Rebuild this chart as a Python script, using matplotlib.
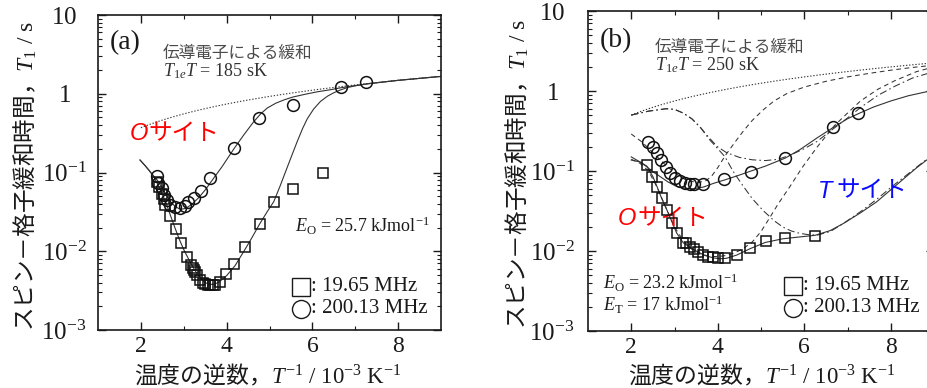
import numpy as np
import matplotlib
matplotlib.use("Agg")
import matplotlib.pyplot as plt
from matplotlib.ticker import FixedLocator, LogLocator, NullFormatter, FixedFormatter

plt.rcParams['font.family'] = ['Liberation Serif', 'Noto Sans CJK JP', 'DejaVu Sans']
plt.rcParams['mathtext.fontset'] = 'custom'
plt.rcParams['mathtext.rm'] = 'Liberation Serif'
plt.rcParams['mathtext.it'] = 'Liberation Serif:italic'
plt.rcParams['mathtext.bf'] = 'Liberation Serif:bold'
plt.rcParams['axes.unicode_minus'] = True

# ---------------- panel (a) ----------------
T1eT_a = 185.0          # sK, conduction-electron relaxation
E_O_a = 25.7            # kJ/mol

sq_a_x = [2.37, 2.42, 2.49, 2.53, 2.57, 2.68, 2.82, 2.94, 3.07, 3.18, 3.21, 3.23,
          3.27, 3.31, 3.39, 3.45, 3.50, 3.56, 3.62, 3.68, 3.74, 3.85, 3.99, 4.17,
          4.44, 4.77, 5.10, 5.55, 6.24]
sq_a_y = [0.076, 0.065, 0.054, 0.046, 0.039, 0.0277, 0.019, 0.0126, 0.0085, 0.0066,
          0.0061, 0.0058, 0.0054, 0.0050, 0.0043, 0.0040, 0.0038, 0.0037, 0.0037,
          0.0037, 0.0037, 0.0041, 0.0052, 0.0069, 0.0114, 0.0222, 0.0427, 0.061, 0.099]

ci_a_x = [2.37, 2.41, 2.49, 2.53, 2.61, 2.68, 2.80, 2.92, 3.04, 3.11, 3.23, 3.40,
          3.62, 4.17, 4.76, 5.55, 6.66, 7.26]
ci_a_y = [0.089, 0.073, 0.063, 0.052, 0.045, 0.039, 0.036, 0.035, 0.038, 0.042,
          0.047, 0.059, 0.086, 0.206, 0.49, 0.73, 1.21, 1.42]

fit_ci_a_x = [1.98, 2.1, 2.2, 2.3, 2.4, 2.5, 2.6, 2.7, 2.8, 2.92, 3.05, 3.2, 3.35,
              3.5, 3.7, 3.9, 4.17, 4.4, 4.63, 4.8, 4.95, 5.15, 5.35, 5.55, 5.85,
              6.12, 6.4, 6.66, 7.0, 7.3, 8.0, 9.0]
fit_ci_a_y = [0.144, 0.122, 0.105, 0.09, 0.078, 0.063, 0.051, 0.042, 0.037, 0.034,
              0.035, 0.040, 0.048, 0.060, 0.085, 0.12, 0.20, 0.30, 0.44, 0.56, 0.66,
              0.76, 0.84, 0.91, 0.99, 1.06, 1.12, 1.19, 1.27, 1.34, 1.48, 1.66]

fit_sq_a_x = [1.98, 2.1, 2.2, 2.3, 2.4, 2.5, 2.6, 2.7, 2.8, 2.9, 3.0, 3.1, 3.2, 3.3,
              3.4, 3.5, 3.6, 3.7, 3.8, 3.9, 4.0, 4.2, 4.44, 4.6, 4.77, 4.95, 5.1,
              5.25, 5.41, 5.53, 5.65, 5.77, 5.88, 6.03, 6.19, 6.35, 6.5, 6.66, 6.82,
              7.0, 7.3, 8.0, 9.0]
fit_sq_a_y = [0.144, 0.122, 0.105, 0.088, 0.07, 0.053, 0.039, 0.0275, 0.0195, 0.014,
              0.0105, 0.0082, 0.0065, 0.0053, 0.0045, 0.0040, 0.0038, 0.0038, 0.0040,
              0.0044, 0.0049, 0.0066, 0.0108, 0.0152, 0.0222, 0.032, 0.0427, 0.068,
              0.115, 0.17, 0.25, 0.36, 0.48, 0.64, 0.80, 0.93, 1.03, 1.12, 1.2, 1.26,
              1.34, 1.48, 1.66]

# ---------------- panel (b) ----------------
T1eT_b = 250.0
E_O_b = 23.2
E_T_b = 17.0

sq_b_x = [2.36, 2.49, 2.59, 2.71, 2.82, 2.94, 3.05, 3.19, 3.27, 3.35, 3.44, 3.55,
          3.67, 3.78, 3.90, 4.01, 4.17, 4.44, 4.75, 5.12, 5.56, 6.25]
sq_b_y = [0.119, 0.083, 0.063, 0.046, 0.033, 0.0226, 0.0166, 0.0127, 0.0127, 0.0113,
          0.0105, 0.0098, 0.0089, 0.0085, 0.0083, 0.0081, 0.0081, 0.0089, 0.0108,
          0.0135, 0.0144, 0.0155]

ci_b_x = [2.39, 2.50, 2.59, 2.69, 2.80, 2.90, 3.02, 3.13, 3.25, 3.35, 3.44, 3.65,
          4.15, 4.77, 5.56, 6.67, 7.25]
ci_b_y = [0.233, 0.198, 0.166, 0.137, 0.111, 0.094, 0.081, 0.074, 0.070, 0.068,
          0.068, 0.068, 0.079, 0.098, 0.145, 0.358, 0.526]

fit_ci_b_x = [2.0, 2.2, 2.36, 2.5, 2.67, 2.85, 3.05, 3.25, 3.44, 3.67, 3.9, 4.15,
              4.45, 4.77, 5.1, 5.56, 5.9, 6.3, 6.67, 7.0, 7.25, 7.6, 8.0, 8.4, 8.83, 9.0]
fit_ci_b_y = [0.15, 0.13, 0.113, 0.098, 0.085, 0.073, 0.064, 0.061, 0.060, 0.063,
              0.070, 0.077, 0.087, 0.100, 0.115, 0.145, 0.185, 0.26, 0.35, 0.45,
              0.52, 0.63, 0.75, 0.87, 0.98, 1.02]

fit_sq_b_x = [2.0, 2.2, 2.36, 2.5, 2.6, 2.7, 2.82, 2.95, 3.05, 3.2, 3.35, 3.5, 3.7,
              3.9, 4.05, 4.2, 4.44, 4.75, 5.1, 5.5, 5.9, 6.25, 6.6, 6.9, 7.3, 7.67,
              8.06, 8.3, 8.6, 8.83, 9.0]
fit_sq_b_y = [0.137, 0.13, 0.115, 0.085, 0.063, 0.046, 0.033, 0.0225, 0.0168,
              0.0127, 0.0112, 0.0100, 0.0088, 0.0082, 0.0080, 0.0081, 0.0089,
              0.0107, 0.0128, 0.0142, 0.015, 0.0157, 0.018, 0.022, 0.030, 0.041,
              0.062, 0.080, 0.11, 0.137, 0.155]

# site components (each with the conduction-electron term)
t_hi_x = [2.0, 2.4, 2.8, 3.0, 3.2, 3.4, 3.6, 3.8, 4.0, 4.2, 4.5, 4.8, 5.1, 5.4,
          5.7, 6.0, 6.3, 6.65, 7.0, 7.3, 7.7, 8.1, 8.5, 9.0]
t_hi_y = [0.50, 0.56, 0.60, 0.59, 0.53, 0.45, 0.35, 0.26, 0.20, 0.17, 0.148, 0.138,
          0.135, 0.14, 0.16, 0.19, 0.235, 0.33, 0.46, 0.62, 0.88, 1.15, 1.45, 1.75]

t_lo_x = [2.0, 2.4, 2.8, 3.0, 3.2, 3.4, 3.6, 3.8, 4.0, 4.17, 4.35, 4.56, 4.8, 5.05,
          5.3, 5.5, 5.7, 5.9, 6.1, 6.3, 6.6, 6.9, 7.3, 7.67, 8.06, 8.4, 8.83, 9.0]
t_lo_y = [0.50, 0.56, 0.60, 0.59, 0.53, 0.45, 0.35, 0.25, 0.19, 0.15, 0.10, 0.068,
          0.045, 0.032, 0.024, 0.020, 0.0178, 0.0166, 0.016, 0.0158, 0.0175, 0.022,
          0.031, 0.044, 0.066, 0.092, 0.14, 0.165]

o_hi_x = [2.0, 2.25, 2.5, 2.75, 3.0, 3.25, 3.5, 3.7, 3.85, 4.0, 4.17, 4.4, 4.6, 4.8,
          5.05, 5.3, 5.6, 6.0, 6.5, 7.0, 7.5, 8.0, 8.5, 9.0]
o_hi_y = [0.29, 0.23, 0.17, 0.125, 0.095, 0.078, 0.072, 0.074, 0.085, 0.11, 0.155,
          0.23, 0.32, 0.43, 0.58, 0.75, 0.93, 1.12, 1.32, 1.5, 1.66, 1.82, 1.97, 2.1]

o_lo_x = [2.0, 2.2, 2.4, 2.6, 2.8, 3.0, 3.2, 3.4, 3.6, 3.8, 4.0, 4.2, 4.4, 4.6, 4.8,
          5.0, 5.2, 5.4, 5.67, 5.95, 6.3, 6.7, 7.0, 7.3, 7.7, 8.1, 8.6, 9.0]
o_lo_y = [0.14, 0.125, 0.10, 0.062, 0.035, 0.020, 0.0135, 0.0105, 0.0092, 0.0086,
          0.0085, 0.0088, 0.0095, 0.0108, 0.013, 0.0175, 0.026, 0.039, 0.064, 0.11,
          0.2, 0.37, 0.53, 0.75, 1.05, 1.35, 1.75, 2.0]

x_major = [2, 4, 6, 8]
x_minor = [3, 5, 7]
y_major = [1e-3, 1e-2, 1e-1, 1, 10]
y_major_labels = [r'$10^{-3}$', r'$10^{-2}$', r'$10^{-1}$', r'$1$', r'$10$']

JP = ['Noto Sans CJK JP', 'DejaVu Sans']
INK = '#1a1a1a'
LINE = '#333333'

fig = plt.figure(figsize=(9.27, 3.88), dpi=100)
W, H = 927.0, 388.0


def make_axes(x0, x1, y0, y1, label_center_px):
    ax = fig.add_axes([x0 / W, 1 - y1 / H, (x1 - x0) / W, (y1 - y0) / H])
    ax.set_yscale('log')
    ax.set_xlim(1, 9)
    ax.set_ylim(1e-3, 10)
    ax.xaxis.set_major_locator(FixedLocator(x_major))
    ax.xaxis.set_minor_locator(FixedLocator(x_minor))
    ax.yaxis.set_major_locator(FixedLocator(y_major))
    ax.yaxis.set_major_formatter(FixedFormatter(y_major_labels))
    ax.yaxis.set_minor_locator(LogLocator(base=10, subs=np.arange(2, 10), numticks=20))
    ax.yaxis.set_minor_formatter(NullFormatter())
    ax.tick_params(which='major', direction='in', top=True, right=True,
                   length=5.5, width=1.0, color=INK, labelcolor=INK)
    ax.tick_params(which='minor', direction='in', top=True, right=True,
                   length=3.0, width=0.8, color=INK)
    ax.tick_params(axis='x', which='major', pad=4, labelsize=17)
    ax.tick_params(axis='y', which='major', pad=label_center_px / 1.389, labelsize=18)
    for lbl in ax.get_yticklabels():
        lbl.set_horizontalalignment('center')
    for s in ax.spines.values():
        s.set_linewidth(1.2)
        s.set_color(INK)
    return ax


def t1e_line(ax, t1et):
    xx = np.linspace(2.0, 9.0, 80)
    ax.plot(xx, t1et * xx * 1e-3, linestyle=(0, (1.2, 1.6)), color=LINE, lw=0.8)


def markers(ax, sx, sy, cx, cy):
    ax.plot(sx, sy, linestyle='none', marker='s', ms=7.5, mfc='none', mec='#111111',
            mew=1.1, zorder=5)
    ax.plot(cx, cy, linestyle='none', marker='o', ms=8.5, mfc='none', mec='#111111',
            mew=1.1, zorder=5)


def legend_block(ax, xm, xt, ys, yc):
    ax.plot([xm], [ys], transform=ax.transAxes, marker='s', ms=12.5, mfc='none',
            mec=INK, mew=1.0, clip_on=False)
    ax.plot([xm], [yc], transform=ax.transAxes, marker='o', ms=13, mfc='none',
            mec=INK, mew=1.0, clip_on=False)
    ax.text(xt, ys, ': 19.65 MHz', transform=ax.transAxes, fontsize=15,
            ha='left', va='center', color=INK)
    ax.text(xt, yc, ': 200.13 MHz', transform=ax.transAxes, fontsize=15,
            ha='left', va='center', color=INK)


def site_label(ax, x_letter, x_kana, y, letter, color):
    ax.text(x_letter, y, letter, transform=ax.transAxes, fontsize=17,
            family=['Liberation Sans'], style='italic', color=color,
            ha='left', va='center')
    ax.text(x_kana, y, 'サイト', transform=ax.transAxes, fontsize=17,
            family=JP, color=color, ha='left', va='center')


# ---------- (a) ----------
ax1 = make_axes(98, 441, 15, 330, 34)
t1e_line(ax1, T1eT_a)
ax1.plot(fit_ci_a_x, fit_ci_a_y, color=LINE, lw=0.8)
ax1.plot(fit_sq_a_x, fit_sq_a_y, color=LINE, lw=0.8)
markers(ax1, sq_a_x, sq_a_y, ci_a_x, ci_a_y)

ax1.text(0.035, 0.911, '(a)', transform=ax1.transAxes, fontsize=20, ha='left',
         va='center', color=INK)
ax1.text(0.19, 0.879, '伝導電子による緩和', transform=ax1.transAxes, fontsize=12,
         family=JP, color='#4a4a4a', ha='left', va='center')
ax1.text(0.19, 0.822, r'$T_{1e}T$ = %g sK' % T1eT_a, transform=ax1.transAxes,
         fontsize=13, color='#333333', ha='left', va='center')
site_label(ax1, 0.093, 0.146, 0.625, 'O', '#ff0000')
ax1.text(0.574, 0.33, r'$E_\mathrm{O}$ = %.1f kJmol$^{-1}$' % E_O_a,
         transform=ax1.transAxes, fontsize=13, color=INK, ha='left', va='center')
legend_block(ax1, 0.592, 0.622, 0.137, 0.067)

fig.text(25 / W, 1 - 176 / H, r'スピン－格子緩和時間，$T_1\ /\ \mathrm{s}$', rotation=90,
         ha='center', va='center', fontsize=17, family=JP, color=INK)
fig.text(268 / W, 1 - 375 / H, r'温度の逆数，$T^{-1}\ /\ \mathrm{10^{-3}\ K^{-1}}$',
         ha='center', va='center', fontsize=16.5, family=JP, color=INK)

# ---------- (b) ----------
ax2 = make_axes(588, 934, 11, 331, 36)
t1e_line(ax2, T1eT_b)
dashdot = (0, (7, 3, 1.5, 3))
dashed = (0, (4.5, 3.5))
ax2.plot(t_hi_x, t_hi_y, color=LINE, lw=0.75, linestyle=dashdot)
ax2.plot(t_lo_x, t_lo_y, color=LINE, lw=0.75, linestyle=dashdot)
ax2.plot(o_hi_x, o_hi_y, color=LINE, lw=0.75, linestyle=dashed)
ax2.plot(o_lo_x, o_lo_y, color=LINE, lw=0.75, linestyle=dashed)
ax2.plot(fit_ci_b_x, fit_ci_b_y, color=LINE, lw=0.8)
ax2.plot(fit_sq_b_x, fit_sq_b_y, color=LINE, lw=0.8)
markers(ax2, sq_b_x, sq_b_y, ci_b_x, ci_b_y)

ax2.text(0.035, 0.909, '(b)', transform=ax2.transAxes, fontsize=20, ha='left',
         va='center', color=INK)
ax2.text(0.194, 0.8875, '伝導電子による緩和', transform=ax2.transAxes, fontsize=12,
         family=JP, color='#4a4a4a', ha='left', va='center')
ax2.text(0.194, 0.832, r'$T_{1e}T$ = %g sK' % T1eT_b, transform=ax2.transAxes,
         fontsize=13, color='#333333', ha='left', va='center')
site_label(ax2, 0.086, 0.142, 0.353, 'O', '#ff0000')
site_label(ax2, 0.665, 0.718, 0.4375, 'T', '#0a0aff')
ax2.text(0.043, 0.15, r'$E_\mathrm{O}$ = %.1f kJmol$^{-1}$' % E_O_b,
         transform=ax2.transAxes, fontsize=13, color=INK, ha='left', va='center')
ax2.text(0.043, 0.081, r'$E_\mathrm{T}$ = %g kJmol$^{-1}$' % E_T_b,
         transform=ax2.transAxes, fontsize=13, color=INK, ha='left', va='center')
legend_block(ax2, 0.592, 0.621, 0.141, 0.072)

fig.text(517 / W, 1 - 174 / H, r'スピン－格子緩和時間，$T_1\ /\ \mathrm{s}$', rotation=90,
         ha='center', va='center', fontsize=17, family=JP, color=INK)
fig.text(762 / W, 1 - 375 / H, r'温度の逆数，$T^{-1}\ /\ \mathrm{10^{-3}\ K^{-1}}$',
         ha='center', va='center', fontsize=16.5, family=JP, color=INK)

fig.savefig('out.png', dpi=100)
